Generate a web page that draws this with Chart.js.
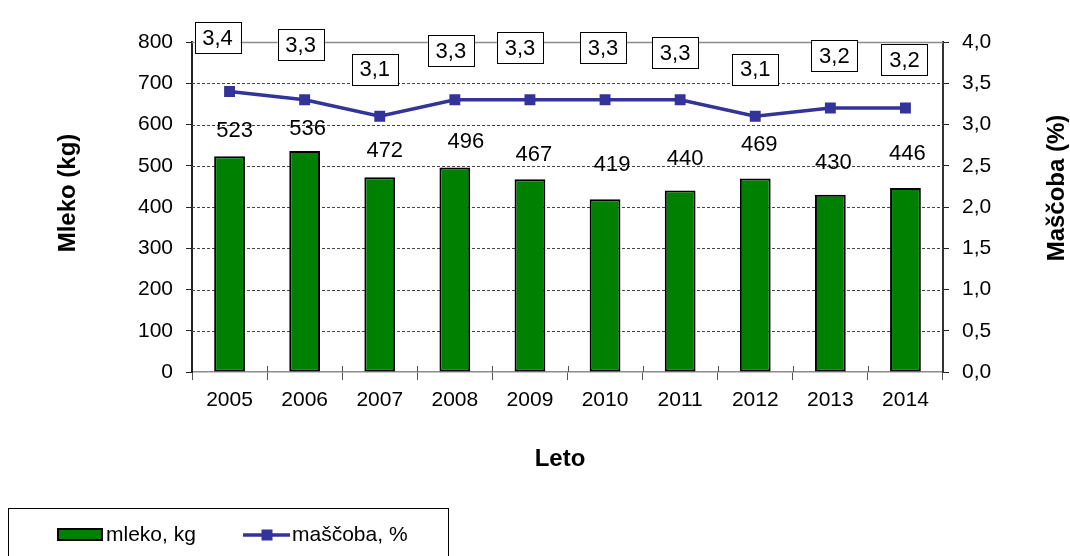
<!DOCTYPE html>
<html lang="sl">
<head>
<meta charset="utf-8">
<title>Mleko in maščoba</title>
<script src="https://cdn.jsdelivr.net/npm/chart.js"></script>
<style>
  html, body { margin: 0; padding: 0; background: #fff; }
  #graf { display: block; }
</style>
</head>
<body>
<canvas id="graf" width="1070" height="556"></canvas>
<script>
const leta = ["2005","2006","2007","2008","2009","2010","2011","2012","2013","2014"];
const mleko = [523, 536, 472, 496, 467, 419, 440, 469, 430, 446];
const mascoba = [3.4, 3.3, 3.1, 3.3, 3.3, 3.3, 3.3, 3.1, 3.2, 3.2];

// razponi osi
const kgMin = 0, kgMax = 800, kgKorak = 100;
const odstMin = 0, odstMax = 4, odstKorak = 0.5;

const naslovi = {
  levo: "Mleko (kg)",
  desno: "Maščoba (%)",
  spodaj: "Leto"
};
const legenda = ["mleko, kg", "maščoba, %"];

const FONT = "'Liberation Sans', Arial, sans-serif";
const ZELENA = "#008000";
const MODRA = "#333399";

const vejica = v => v.toFixed(1).replace(".", ",");

// prekinjene črte mreže + zgornja siva črta
const mreza = {
  id: "mreza",
  beforeDatasetsDraw(chart) {
    const { ctx, chartArea: a, scales } = chart;
    const y = scales.y;
    ctx.save();
    for (let v = kgMin + kgKorak; v <= kgMax; v += kgKorak) {
      const py = Math.round(y.getPixelForValue(v)) + 0.5;
      ctx.beginPath();
      if (v === kgMax) {
        ctx.setLineDash([]);
        ctx.strokeStyle = "#8c8c8c";
        ctx.lineWidth = 1.5;
      } else {
        ctx.setLineDash([3, 2]);
        ctx.strokeStyle = "#444";
        ctx.lineWidth = 1;
      }
      ctx.moveTo(a.left, py);
      ctx.lineTo(a.right, py);
      ctx.stroke();
    }
    // kratke oznake med kategorijami segajo tudi nad os
    const x = scales.x;
    ctx.setLineDash([]);
    ctx.strokeStyle = "#555";
    ctx.lineWidth = 1;
    for (let i = 1; i < leta.length; i++) {
      const px = Math.round((x.getPixelForValue(i - 1) + x.getPixelForValue(i)) / 2) + 0.5;
      ctx.beginPath();
      ctx.moveTo(px, a.bottom - 6);
      ctx.lineTo(px, a.bottom);
      ctx.stroke();
    }
    ctx.restore();
  }
};

// vrednosti nad stolpci in v okvirčkih nad črto
const oznake = {
  id: "oznake",
  afterDatasetsDraw(chart, args, opts) {
    const { ctx } = chart;
    const stolpci = chart.getDatasetMeta(0).data;
    const tocke = chart.getDatasetMeta(1).data;
    ctx.save();
    ctx.font = `22px ${FONT}`;
    ctx.fillStyle = "#000";
    ctx.textAlign = "center";
    ctx.textBaseline = "middle";

    stolpci.forEach((s, i) => {
      const [dx, dy] = opts.stolpci[i];
      ctx.fillText(String(mleko[i]), s.x + dx, s.y + dy);
    });

    tocke.forEach((p, i) => {
      const [dx, dy] = opts.tocke[i];
      const besedilo = vejica(mascoba[i]);
      const w = 46, h = 31;
      const cx = p.x + dx, cy = p.y + dy;
      ctx.fillStyle = "#fff";
      ctx.fillRect(cx - w / 2, cy - h / 2, w, h);
      ctx.strokeStyle = "#000";
      ctx.lineWidth = 1;
      ctx.strokeRect(Math.round(cx - w / 2) + 0.5, Math.round(cy - h / 2) + 0.5, w, h);
      ctx.fillStyle = "#000";
      ctx.fillText(besedilo, cx, cy + 1);
    });
    ctx.restore();
  }
};

// naslovi osi in legenda v okvirju
const okvir = {
  id: "okvir",
  afterDraw(chart) {
    const { ctx } = chart;
    ctx.save();
    ctx.fillStyle = "#000";
    ctx.font = `bold 24px ${FONT}`;
    ctx.textAlign = "center";
    ctx.textBaseline = "middle";

    ctx.fillText(naslovi.spodaj, 560, 459);

    ctx.save();
    ctx.translate(68, 193);
    ctx.rotate(-Math.PI / 2);
    ctx.fillText(naslovi.levo, 0, 0);
    ctx.restore();

    ctx.save();
    ctx.translate(1057, 188);
    ctx.rotate(-Math.PI / 2);
    ctx.fillText(naslovi.desno, 0, 0);
    ctx.restore();

    // legenda
    ctx.strokeStyle = "#000";
    ctx.lineWidth = 1;
    ctx.strokeRect(8.5, 508.5, 440, 60);

    ctx.fillStyle = ZELENA;
    ctx.fillRect(58, 529, 44, 11);
    ctx.lineWidth = 2;
    ctx.strokeRect(58, 529, 44, 11);

    ctx.strokeStyle = MODRA;
    ctx.lineWidth = 3.5;
    ctx.beginPath();
    ctx.moveTo(243, 535);
    ctx.lineTo(290, 535);
    ctx.stroke();
    ctx.fillStyle = MODRA;
    ctx.fillRect(261.5, 529.5, 11, 11);

    ctx.fillStyle = "#000";
    ctx.font = `21px ${FONT}`;
    ctx.textAlign = "left";
    ctx.fillText(legenda[0], 106, 535);
    ctx.fillText(legenda[1], 292, 535);
    ctx.restore();
  }
};

new Chart(document.getElementById("graf"), {
  data: {
    labels: leta,
    datasets: [
      {
        type: "bar",
        label: legenda[0],
        data: mleko,
        yAxisID: "y",
        backgroundColor: ZELENA,
        borderColor: "#000",
        borderWidth: 2,
        borderSkipped: false,
        barPercentage: 0.41,
        categoryPercentage: 1,
        order: 2
      },
      {
        type: "line",
        label: legenda[1],
        data: mascoba,
        yAxisID: "y1",
        borderColor: MODRA,
        borderWidth: 3.5,
        pointStyle: "rect",
        pointRadius: 7.7,
        pointBackgroundColor: MODRA,
        pointBorderWidth: 0,
        tension: 0,
        order: 1
      }
    ]
  },
  options: {
    responsive: false,
    animation: false,
    layout: { padding: { top: 42, left: 0, right: 0, bottom: 0 } },
    plugins: {
      legend: { display: false },
      tooltip: { enabled: false },
      oznake: {
        stolpci: [[5, -25], [3, -22], [5, -26], [11, -25], [4, -24], [7, -34], [5, -32], [4, -34], [3, -32], [2, -34]],
        tocke: [[-12, -54], [-4, -55], [-5, -47], [-4, -49], [-10, -52], [-2, -52], [-5, -47], [0, -47], [4, -52], [-1, -48]]
      }
    },
    scales: {
      x: {
        offset: true,
        grid: { offset: true, drawOnChartArea: false, tickLength: 8, color: "#555" },
        border: { color: "#8c8c8c", width: 1.5 },
        ticks: { color: "#000", font: { family: FONT, size: 21 }, padding: 8, maxRotation: 0 },
        afterFit(s) { s.height = 184; }
      },
      y: {
        position: "left",
        min: kgMin,
        max: kgMax,
        grid: { drawOnChartArea: false, tickLength: 6, color: "#222" },
        border: { color: "#222", width: 2 },
        ticks: { stepSize: kgKorak, color: "#000", font: { family: FONT, size: 21 }, padding: 13 },
        afterFit(s) { s.width = 192; }
      },
      y1: {
        position: "right",
        min: odstMin,
        max: odstMax,
        grid: { drawOnChartArea: false, tickLength: 6, color: "#222" },
        border: { color: "#333", width: 2 },
        ticks: {
          stepSize: odstKorak,
          color: "#000",
          font: { family: FONT, size: 21 },
          padding: 13,
          callback: v => vejica(v)
        },
        afterFit(s) { s.width = 127; }
      }
    }
  },
  plugins: [mreza, oznake, okvir]
});
</script>
</body>
</html>
